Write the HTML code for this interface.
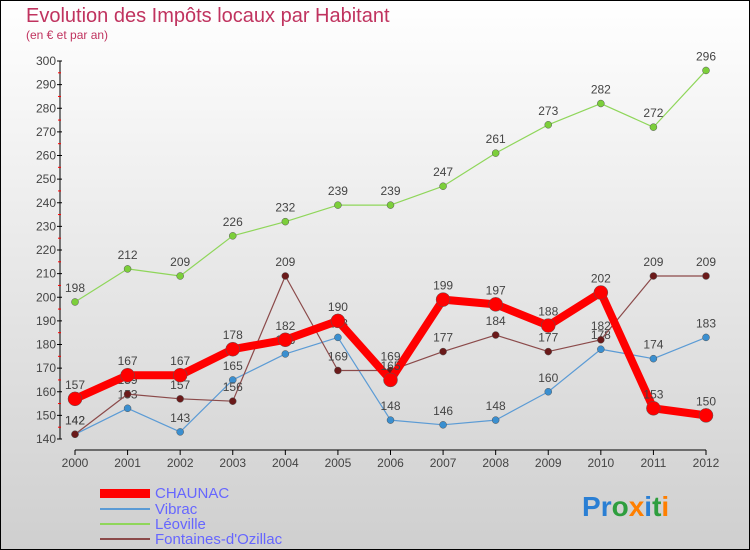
<!DOCTYPE html>
<html><head><meta charset="utf-8"><style>
body{margin:0;width:750px;height:550px;overflow:hidden}
svg{display:block;font-family:"Liberation Sans",sans-serif}
</style></head><body>
<svg id="c" width="750" height="550">
<defs><linearGradient id="bg" x1="0" y1="0" x2="0" y2="1"><stop offset="0" stop-color="#ffffff"/><stop offset="1" stop-color="#cfcfcf"/></linearGradient></defs>
<rect x="0.5" y="0.5" width="749" height="549" fill="url(#bg)" stroke="#000"/>
<text x="26" y="22" font-size="20" fill="#c0335f">Evolution des Impôts locaux par Habitant</text>
<text x="26" y="39" font-size="12" fill="#c0335f">(en € et par an)</text>
<g id="axes"></g><g id="series"></g>
<g>
<rect x="100" y="489" width="50" height="9" fill="#ff0000"/>
<text x="155" y="498" font-size="15" fill="#6666ff">CHAUNAC</text>
<line x1="100" y1="509" x2="150" y2="509" stroke="#5b9bd5" stroke-width="2"/>
<text x="155" y="514" font-size="15" fill="#6666ff">Vibrac</text>
<line x1="100" y1="524" x2="150" y2="524" stroke="#8fd65a" stroke-width="2"/>
<text x="155" y="529" font-size="15" fill="#6666ff">Léoville</text>
<line x1="100" y1="539" x2="150" y2="539" stroke="#8b4a4a" stroke-width="2"/>
<text x="155" y="544" font-size="15" fill="#6666ff">Fontaines-d'Ozillac</text>
</g>
<text x="582" y="516" font-size="28" font-weight="bold"><tspan fill="#2a7fd4">P</tspan><tspan fill="#2a7fd4">r</tspan><tspan fill="#2e9e3e">o</tspan><tspan fill="#ff7f00">x</tspan><tspan fill="#2a7fd4">i</tspan><tspan fill="#2e9e3e">t</tspan><tspan fill="#ff7f00">i</tspan></text>
</svg>
<script>
const years=["2000","2001","2002","2003","2004","2005","2006","2007","2008","2009","2010","2011","2012"];
const chaunac=[157,167,167,178,182,190,165,199,197,188,202,153,150];
const vibrac=[142,153,143,165,176,183,148,146,148,160,178,174,183];
const leoville=[198,212,209,226,232,239,239,247,261,273,282,272,296];
const fontaines=[142,159,157,156,209,169,169,177,184,177,182,209,209];
const yTicks=[140,150,160,170,180,190,200,210,220,230,240,250,260,270,280,290,300];
const NS="http://www.w3.org/2000/svg";
const xs=i=>75+i*(706-75)/(years.length-1);
const ys=v=>439-(v-140)*(439-61)/160;
function mk(t,a,p){const e=document.createElementNS(NS,t);for(const k in a)e.setAttribute(k,a[k]);p.appendChild(e);return e;}
const ax=document.getElementById('axes');
const yl=mk('line',{x1:60,y1:61,x2:60,y2:439,stroke:'#000'},ax);


yTicks.forEach(v=>{
 const y=ys(v);
 mk('line',{x1:57,y1:y,x2:62,y2:y,stroke:'#000'},ax);
 if(v<300) mk('line',{x1:58,y1:ys(v+5),x2:61,y2:ys(v+5),stroke:'#f00'},ax);
 const t=mk('text',{x:56,y:y+4,'font-size':12,fill:'#444','text-anchor':'end'},ax);t.textContent=v;
 
 
});
const xl=mk('line',{x1:75,y1:450,x2:706,y2:450,stroke:'#000'},ax);


years.forEach((yr,i)=>{
 mk('line',{x1:xs(i),y1:450,x2:xs(i),y2:455,stroke:'#000'},ax);
 const t=mk('text',{x:xs(i),y:467,'font-size':12,fill:'#444','text-anchor':'middle'},ax);t.textContent=yr;
 
 
});
const sg=document.getElementById('series');
function draw(data,name,col,w,r,dot){
 const g=mk('g',{},sg);
 
 
 const p=mk('polyline',{points:data.map((v,i)=>xs(i)+','+ys(v)).join(' '),fill:'none',stroke:col,'stroke-width':w,'stroke-linejoin':'round'},g);
 
 
 data.forEach((v,i)=>{
  const c=mk('circle',{cx:xs(i),cy:ys(v),r:r,fill:dot,stroke:'#555','stroke-width':0.5},g);
  
  
  const t=mk('text',{x:xs(i),y:ys(v)-10,'font-size':12,fill:'#444','text-anchor':'middle'},g);t.textContent=v;
  
  
 });
}
draw(leoville,'leoville','#8fd65a',1.2,3.5,'#7ccf3a');
draw(vibrac,'vibrac','#5b9bd5',1.2,3.5,'#3a8fd0');
draw(fontaines,'fontaines','#8b4a4a',1.2,3.5,'#6b1a1a');
draw(chaunac,'chaunac','#ff0000',8,7,'#ff0000');
</script>
</body></html>
